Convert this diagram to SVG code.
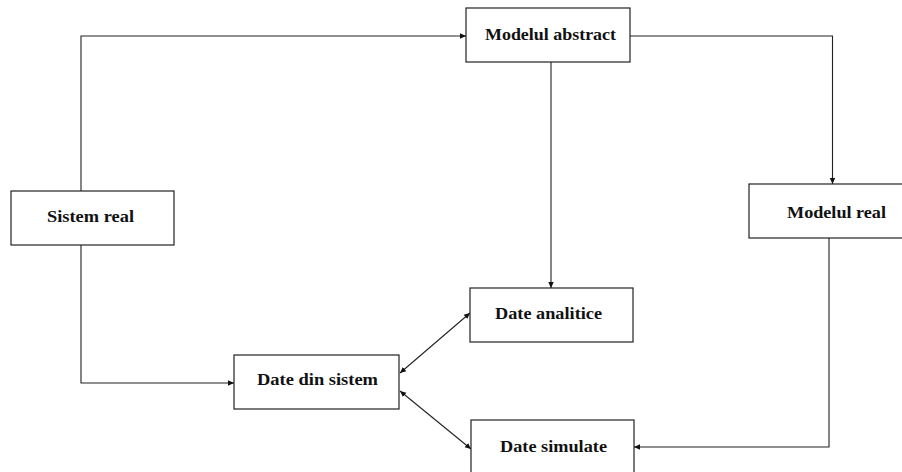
<svg xmlns="http://www.w3.org/2000/svg" width="902" height="472" viewBox="0 0 902 472">
  <style>
    .box { fill: #ffffff; stroke: #222222; stroke-width: 1.2; }
    .lbl { font-family: "Liberation Serif", "Times New Roman", serif; font-weight: bold; font-size: 16.5px; fill: #111111; }
    .wire { fill: none; stroke: #222222; stroke-width: 1.1; }
  </style>
  <defs>
    <marker id="tip" markerUnits="userSpaceOnUse" markerWidth="7" markerHeight="7" refX="6" refY="3.5" orient="auto-start-reverse">
      <path d="M0,0.8 L6,3.5 L0,6.2 z" fill="#111111"/>
    </marker>
  </defs>
  <rect width="902" height="472" fill="#ffffff"/>

  <g id="connectors">
    <polyline class="wire" points="81,191 81,36 466,36" marker-end="url(#tip)"/>
    <polyline class="wire" points="630,36 832.5,36 832.5,184" marker-end="url(#tip)"/>
    <polyline class="wire" points="551,62 551,288" marker-end="url(#tip)"/>
    <polyline class="wire" points="829,238 829,447 634,447" marker-end="url(#tip)"/>
    <polyline class="wire" points="81,245 81,383 234,383" marker-end="url(#tip)"/>
    <line class="wire" x1="400" y1="373" x2="470" y2="313" marker-start="url(#tip)" marker-end="url(#tip)"/>
    <line class="wire" x1="400" y1="391" x2="471" y2="449" marker-start="url(#tip)" marker-end="url(#tip)"/>
  </g>

  <g id="sistem-real">
    <rect class="box" x="11" y="191" width="163" height="54"/>
    <text class="lbl" x="47" y="222" textLength="87" lengthAdjust="spacingAndGlyphs">Sistem real</text>
  </g>

  <g id="modelul-abstract">
    <rect class="box" x="466" y="8" width="164" height="54"/>
    <text class="lbl" x="485" y="39.5" textLength="131" lengthAdjust="spacingAndGlyphs">Modelul abstract</text>
  </g>

  <g id="modelul-real">
    <rect class="box" x="749" y="184" width="160" height="54"/>
    <text class="lbl" x="787" y="218" textLength="99" lengthAdjust="spacingAndGlyphs">Modelul real</text>
  </g>

  <g id="date-analitice">
    <rect class="box" x="470" y="288" width="163" height="54"/>
    <text class="lbl" x="495" y="318.5" textLength="107" lengthAdjust="spacingAndGlyphs">Date analitice</text>
  </g>

  <g id="date-din-sistem">
    <rect class="box" x="234" y="355" width="165" height="54"/>
    <text class="lbl" x="257" y="384.5" textLength="121" lengthAdjust="spacingAndGlyphs">Date din sistem</text>
  </g>

  <g id="date-simulate">
    <rect class="box" x="471" y="420" width="163" height="54"/>
    <text class="lbl" x="500" y="452" textLength="107" lengthAdjust="spacingAndGlyphs">Date simulate</text>
  </g>
</svg>
